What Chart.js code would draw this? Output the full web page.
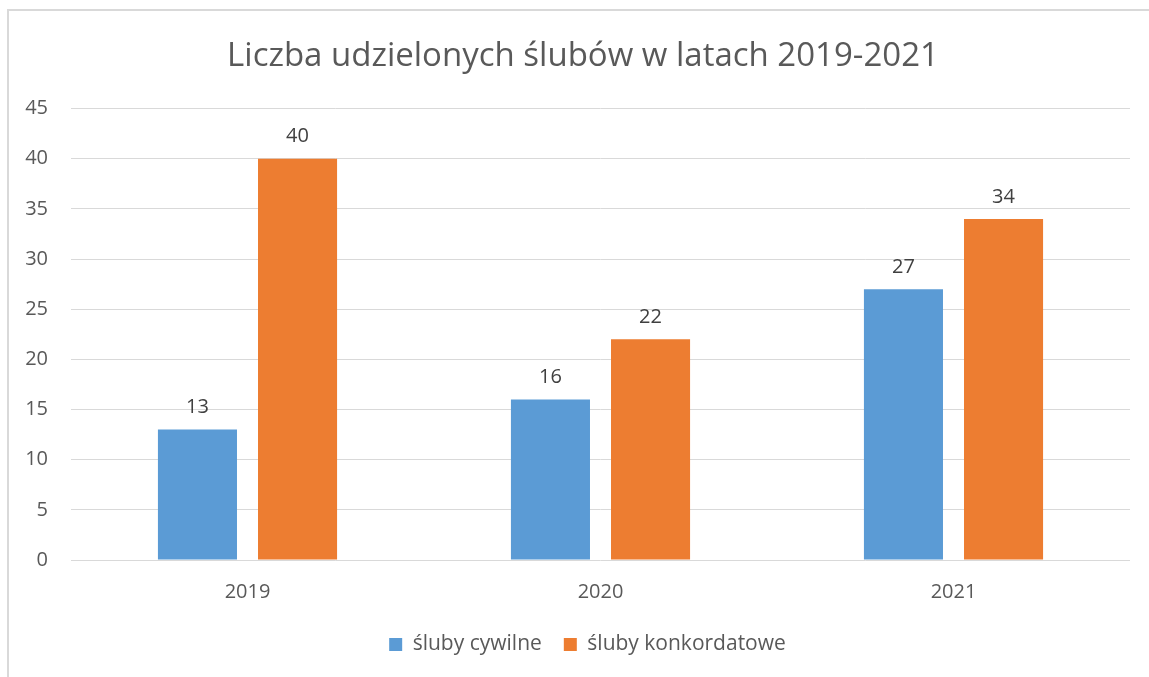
<!DOCTYPE html>
<html><head><meta charset="utf-8">
<script src="https://cdn.jsdelivr.net/npm/chart.js@4"></script>
<style>html,body{margin:0;padding:0;background:#fff;overflow:hidden}#wrap{position:absolute;left:0;top:0;width:1149px;height:677px}</style>
</head><body><div id="wrap"><canvas id="c" width="1149" height="677"></canvas></div>
<script>
const categories = ['2019', '2020', '2021'];
const cywilne = [13, 16, 27];
const konkordatowe = [40, 22, 34];
const seriesNames = ['śluby cywilne', 'śluby konkordatowe'];
const titleText = 'Liczba udzielonych ślubów w latach 2019-2021';
const yMin = 0, yMax = 45, yStep = 5;

const FONT = '"Open Sans", sans-serif';
const borderPlugin = {
  id: 'frame',
  afterLayout(chart) {
    const t = chart.titleBlock;
    if (t) { t.left = 36; t.width = t.right - t.left; }
    const l = chart.legend;
    if (l) { l.left = 45; l.width = l.right - l.left; l.top -= 5; l.bottom -= 5; }
  },
  beforeDraw(chart) {
    const ctx = chart.ctx;
    ctx.save();
    ctx.fillStyle = '#fff';
    ctx.fillRect(0, 0, chart.width, chart.height);
    ctx.strokeStyle = '#d9d9d9';
    ctx.lineWidth = 2;
    ctx.beginPath();
    ctx.moveTo(8, chart.height + 5);
    ctx.lineTo(8, 10);
    ctx.lineTo(chart.width + 5, 10);
    ctx.stroke();
    ctx.restore();
  }
};
const labelPlugin = {
  id: 'vals',
  afterDatasetsDraw(chart) {
    const ctx = chart.ctx;
    ctx.save();
    ctx.font = '20px ' + FONT;
    ctx.fillStyle = '#404040';
    ctx.textAlign = 'center';
    ctx.textBaseline = 'middle';
    chart.data.datasets.forEach((ds, i) => {
      chart.getDatasetMeta(i).data.forEach((el, j) => {
        ctx.fillText(String(ds.data[j]), el.x, el.y - 22);
      });
    });
    ctx.restore();
  }
};
new Chart(document.getElementById('c'), {
  type: 'bar',
  data: {
    labels: categories,
    datasets: [
      { label: seriesNames[0], data: cywilne, backgroundColor: '#5B9BD5', barPercentage: 0.79, categoryPercentage: 0.567 },
      { label: seriesNames[1], data: konkordatowe, backgroundColor: '#ED7D31', barPercentage: 0.79, categoryPercentage: 0.567 }
    ]
  },
  options: {
    responsive: false,
    animation: false,
    layout: { padding: { left: 17, right: 19, top: 37, bottom: 7 } },
    plugins: {
      title: { display: true, text: titleText, color: '#595959', font: { family: FONT, size: 33, weight: 'normal' }, padding: { top: 0, bottom: 32 } },
      legend: { position: 'bottom', labels: { color: '#595959', font: { family: FONT, size: 21 }, boxWidth: 13, boxHeight: 13, padding: 22, useBorderRadius: false } },
      tooltip: { enabled: false }
    },
    scales: {
      x: {
        grid: { display: false },
        border: { display: false },
        ticks: { color: '#595959', font: { family: FONT, size: 20 }, padding: 12 },
        afterFit(s) { s.height = 57; }
      },
      y: {
        min: yMin, max: yMax,
        grid: { color: '#d9d9d9', lineWidth: 1, drawTicks: false },
        border: { display: false },
        ticks: { stepSize: yStep, color: '#595959', font: { family: FONT, size: 20 }, padding: 23 },
        afterFit(s) { s.width = 54; }
      }
    }
  },
  plugins: [borderPlugin, labelPlugin]
});
</script></body></html>
